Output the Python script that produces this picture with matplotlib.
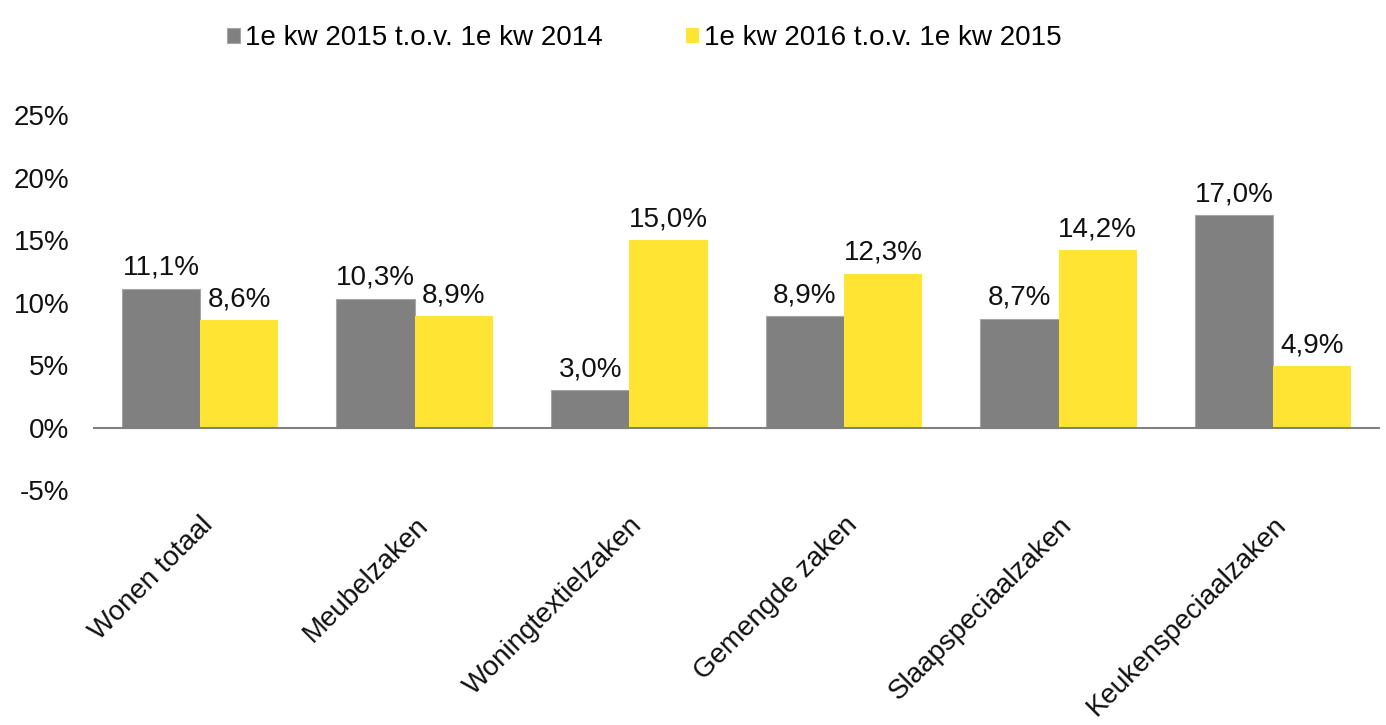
import matplotlib.pyplot as plt
import numpy as np

plt.rcParams['font.family'] = ['Liberation Sans', 'DejaVu Sans']

categories = ['Wonen totaal', 'Meubelzaken', 'Woningtextielzaken',
              'Gemengde zaken', 'Slaapspeciaalzaken', 'Keukenspeciaalzaken']
kw2015 = [11.1, 10.3, 3.0, 8.9, 8.7, 17.0]
kw2016 = [8.6, 8.9, 15.0, 12.3, 14.2, 4.9]
series_names = ['1e kw 2015 t.o.v. 1e kw 2014', '1e kw 2016 t.o.v. 1e kw 2015']
yticks = [-5, 0, 5, 10, 15, 20, 25]

grey = '#808080'
yellow = '#FFE433'

fig = plt.figure(figsize=(13.86, 7.25), dpi=100)
ax = fig.add_axes([0.067, 0.324, 0.929, 0.517])

x = np.arange(len(categories))
w = 0.365
b1 = ax.bar(x - w / 2, kw2015, w, color=grey, edgecolor='#a6a6a6', linewidth=0.8,
            label=series_names[0])
b2 = ax.bar(x + w / 2, kw2016, w, color=yellow, label=series_names[1])

for bars, vals in [(b1, kw2015), (b2, kw2016)]:
    for rect, v in zip(bars, vals):
        ax.text(rect.get_x() + rect.get_width() / 2, v + 0.65,
                ('%.1f%%' % v).replace('.', ','),
                ha='center', va='bottom', fontsize=20, color='#111111')

ax.axhline(0, color='#808080', linewidth=1.5)
ax.set_xlim(-0.5, len(categories) - 0.5)
ax.set_ylim(-5, 25)
ax.set_yticks(yticks)
ax.set_yticklabels(['%d%%' % t for t in yticks], fontsize=20, color='#111111')
ax.set_xticks(x)
ax.set_xticklabels(categories, rotation=45, ha='right', va='top',
                   rotation_mode='anchor', fontsize=20, color='#111111')
ax.tick_params(axis='both', length=0)
ax.tick_params(axis='x', pad=16)
ax.tick_params(axis='y', pad=17)
for s in ax.spines.values():
    s.set_visible(False)

fig.legend(handles=[b1, b2], loc='upper center', bbox_to_anchor=(0.465, 1.0),
           ncol=2, frameon=False, fontsize=20, handlelength=0.45, handleheight=0.45,
           handletextpad=0.2, columnspacing=3.0)

fig.savefig('out.png', dpi=100)
